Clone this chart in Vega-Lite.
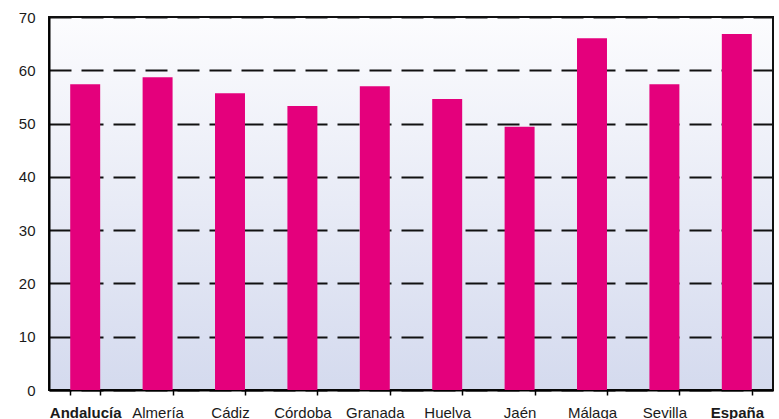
{
  "$schema": "https://vega.github.io/schema/vega-lite/v6.json",
  "width": 724,
  "height": 373,
  "autosize": {"type": "none"},
  "padding": {"left": 49, "top": 17, "right": 6, "bottom": 29},
  "background": "#ffffff",
  "config": {
    "font": "Liberation Sans",
    "view": {
      "fill": {"gradient": "linear", "x1": 0, "y1": 0, "x2": 0, "y2": 1,
        "stops": [{"offset": 0, "color": "#fcfcfe"}, {"offset": 1, "color": "#d4daee"}]},
      "stroke": "#111111",
      "strokeWidth": 2
    }
  },
  "data": {
    "values": [
      {"provincia": "Andalucía", "valor": 57.4},
      {"provincia": "Almería", "valor": 58.7},
      {"provincia": "Cádiz", "valor": 55.7},
      {"provincia": "Córdoba", "valor": 53.3},
      {"provincia": "Granada", "valor": 57.0},
      {"provincia": "Huelva", "valor": 54.6},
      {"provincia": "Jaén", "valor": 49.4},
      {"provincia": "Málaga", "valor": 66.0},
      {"provincia": "Sevilla", "valor": 57.4},
      {"provincia": "España", "valor": 66.8}
    ]
  },
  "mark": {"type": "bar", "color": "#e4007c"},
  "encoding": {
    "x": {
      "field": "provincia", "type": "nominal", "sort": null,
      "scale": {"paddingInner": 0.586, "paddingOuter": 0.293},
      "axis": {
        "title": null, "labelAngle": 0, "tickBand": "extent",
        "domainColor": "#000000", "domainWidth": 2,
        "tickColor": "#000000", "tickSize": 5, "tickWidth": 1.5,
        "labelPadding": 10, "labelFontSize": 15, "labelColor": "#1a1a1a",
        "labelFontWeight": {"condition": {"test": "datum.value == 'Andalucía' || datum.value == 'España'", "value": "bold"}, "value": "normal"}
      }
    },
    "y": {
      "field": "valor", "type": "quantitative",
      "scale": {"domain": [0, 70], "nice": false},
      "axis": {
        "title": null, "values": [0, 10, 20, 30, 40, 50, 60, 70],
        "ticks": false, "labelPadding": 14, "labelFontSize": 15, "labelColor": "#1a1a1a",
        "domainColor": "#000000", "domainWidth": 2,
        "grid": true, "gridColor": "#111111", "gridWidth": 2, "gridDash": [22, 10]
      }
    }
  }
}
